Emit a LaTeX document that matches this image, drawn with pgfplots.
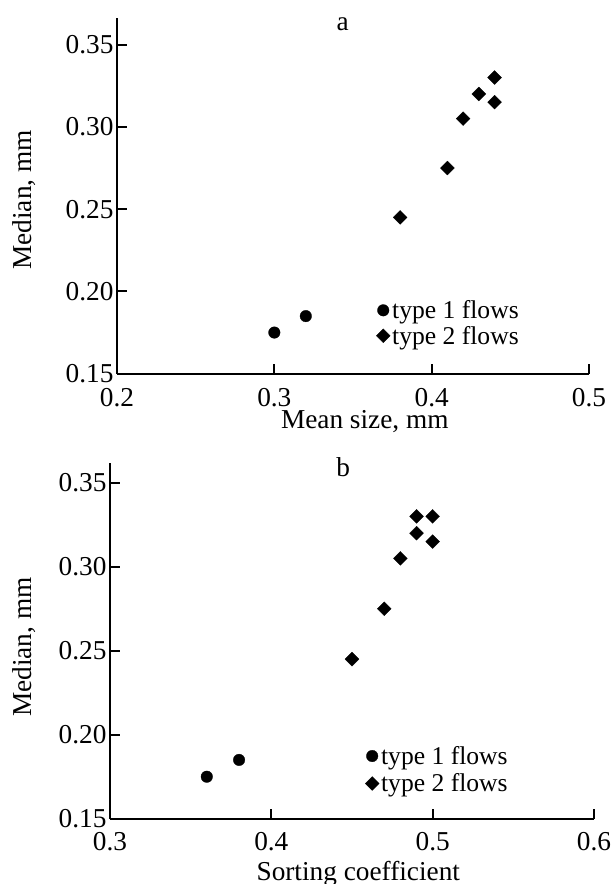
\documentclass[border=0pt]{standalone}
\usepackage{fontspec}
\setmainfont{Liberation Serif}
\usepackage{pgfplots}
\pgfplotsset{compat=1.18}
\newcommand\fs{\fontsize{27.3bp}{32bp}\selectfont}
\newcommand\lfs{\fontsize{25.6bp}{29bp}\selectfont}
\pgfplotsset{
  myaxis/.style={
    scale only axis, anchor=south west, clip=false,
    axis x line*=bottom, axis y line*=left,
    axis line style={line width=2bp, black},
    tick align=inside, major tick length=10bp,
    tick style={line width=2bp, black},
    tick label style={font=\fs},
    label style={font=\fs},
    title style={font=\fs, anchor=base},
    /pgf/number format/assume math mode=true,
    yticklabel style={/pgf/number format/fixed, /pgf/number format/fixed zerofill, /pgf/number format/precision=2},
    xticklabel style={/pgf/number format/fixed, /pgf/number format/fixed zerofill, /pgf/number format/precision=1},
    ytick={0.15,0.20,0.25,0.30,0.35},
    legend image code/.code={\draw[#1,only marks] plot coordinates {(0bp,0bp)};},
    legend cell align=left,
  },
  t1/.style={only marks, mark=*, mark size=5.8bp, mark options={fill=black, draw=black, line width=0.3bp}},
  t2/.style={only marks, mark=square*, mark size=4.9bp, mark options={rotate=45, fill=black, draw=black, line width=0.3bp}},
}
\begin{document}
\begin{tikzpicture}
\useasboundingbox (0,0) rectangle (612bp,884bp);
% panel a
\begin{axis}[myaxis,
  at={(117bp,510.3bp)}, width=472bp, height=355.4bp,
  xmin=0.2, xmax=0.5, ymin=0.15, ymax=0.366,
  xtick={0.2,0.3,0.4,0.5},
  xticklabel style={anchor=base, yshift=-33bp},
  xlabel={Mean size, mm},
  xlabel style={at={(axis description cs:0.525,-0.1556)}, anchor=base},
  ylabel={Median, mm},
  ylabel style={at={(axis description cs:-0.1807,0.489)}, anchor=base},
  title={a}, title style={at={(axis description cs:0.478,0.948)}},
  legend style={draw=none, fill=none, at={(axis description cs:0.549,0.212)}, anchor=north west, inner sep=0pt, font=\lfs, row sep=2bp, nodes={inner sep=2bp}},
]
\addplot[t1] coordinates {(0.30,0.175) (0.32,0.185)};
\addlegendentry{type 1 flows}
\addplot[t2] coordinates {(0.38,0.245) (0.41,0.275) (0.42,0.305) (0.43,0.320) (0.44,0.330) (0.44,0.315)};
\addlegendentry{type 2 flows}
\end{axis}
% panel b
\begin{axis}[myaxis,
  at={(110bp,65.3bp)}, width=484bp, height=355.4bp,
  xmin=0.3, xmax=0.6, ymin=0.15, ymax=0.3616,
  xtick={0.3,0.4,0.5,0.6},
  xticklabel style={anchor=base, yshift=-31.5bp},
  xlabel={Sorting coefficient},
  xlabel style={at={(axis description cs:0.513,-0.1735)}, anchor=base},
  ylabel={Median, mm},
  ylabel style={at={(axis description cs:-0.1618,0.483)}, anchor=base},
  title={b}, title style={at={(axis description cs:0.482,0.947)}},
  legend style={draw=none, fill=none, at={(axis description cs:0.527,0.21)}, anchor=north west, inner sep=0pt, font=\lfs, row sep=4bp, nodes={inner sep=2bp}},
]
\addplot[t1] coordinates {(0.36,0.175) (0.38,0.185)};
\addlegendentry{type 1 flows}
\addplot[t2] coordinates {(0.45,0.245) (0.47,0.275) (0.48,0.305) (0.49,0.320) (0.49,0.330) (0.50,0.330) (0.50,0.315)};
\addlegendentry{type 2 flows}
\end{axis}
\end{tikzpicture}
\end{document}
